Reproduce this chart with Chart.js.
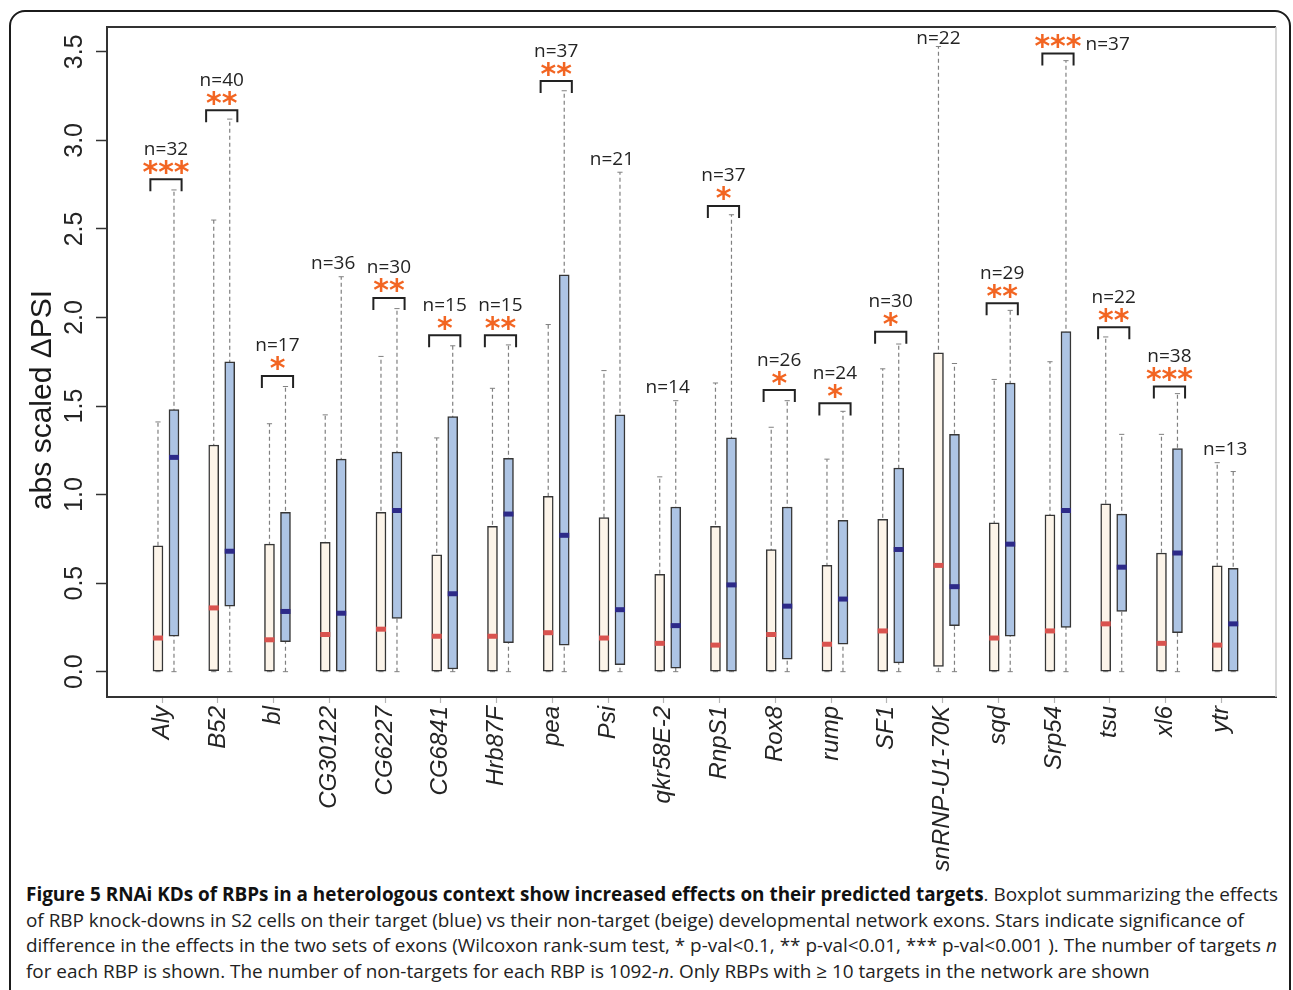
<!DOCTYPE html>
<html>
<head>
<meta charset="utf-8">
<script src="https://cdn.jsdelivr.net/npm/chart.js@4.4.1/dist/chart.umd.min.js"></script>
<style>
  html, body { margin: 0; padding: 0; background: #fff; width: 1293px; height: 990px; overflow: hidden; }
  #frame { position: absolute; left: 9px; top: 10px; width: 1282px; height: 1020px; border: 2px solid #1b1b1b;
           border-radius: 16px; box-sizing: border-box; }
  #wrap { position: absolute; left: 0; top: 0; width: 1293px; height: 880px; }
  #caption { position: absolute; left: 26px; top: 882px; font-family: 'Open Sans', sans-serif; font-size: 19px;
             line-height: 25.7px; color: #222; }
  #caption div { white-space: nowrap; transform-origin: 0 0; width: max-content; }
  #caption b { font-weight: 700; color: #111; }
</style>
</head>
<body>
<div id="frame"></div>
<div id="wrap"><canvas id="c" width="1293" height="880"></canvas></div>
<div id="caption">
  <div><b>Figure 5 RNAi KDs of RBPs in a heterologous context show increased effects on their predicted targets</b>. Boxplot summarizing the effects</div>
  <div>of RBP knock-downs in S2 cells on their target (blue) vs their non-target (beige) developmental network exons. Stars indicate significance of</div>
  <div>difference in the effects in the two sets of exons (Wilcoxon rank-sum test, * p-val&lt;0.1, ** p-val&lt;0.01, *** p-val&lt;0.001 ). The number of targets <i>n</i></div>
  <div>for each RBP is shown. The number of non-targets for each RBP is 1092-<i>n</i>. Only RBPs with &#8805; 10 targets in the network are shown</div>
</div>
<script>
// RNA-binding proteins knocked down in S2 cells
const categories = ['Aly', 'B52', 'bl', 'CG30122', 'CG6227', 'CG6841', 'Hrb87F', 'pea', 'Psi', 'qkr58E-2',
  'RnpS1', 'Rox8', 'rump', 'SF1', 'snRNP-U1-70K', 'sqd', 'Srp54', 'tsu', 'xl6', 'ytr'];

// Non-target exons (beige): whisker ends, quartiles, median
const nonTargetMin = [0, 0, 0, 0, 0, 0, 0, 0, 0, 0, 0, 0, 0, 0, 0, 0, 0, 0, 0, 0];
const nonTargetQ1  = [0, 0.005, 0, 0, 0, 0, 0, 0, 0, 0, 0, 0, 0, 0, 0.03, 0, 0, 0, 0, 0];
const nonTargetMed = [0.19, 0.36, 0.18, 0.21, 0.24, 0.20, 0.20, 0.22, 0.19, 0.16, 0.15, 0.21, 0.155, 0.23, 0.60, 0.19, 0.23, 0.27, 0.16, 0.15];
const nonTargetQ3  = [0.71, 1.28, 0.72, 0.73, 0.90, 0.66, 0.82, 0.99, 0.87, 0.55, 0.82, 0.69, 0.60, 0.86, 1.80, 0.84, 0.885, 0.947, 0.67, 0.597];
const nonTargetMax = [1.41, 2.55, 1.40, 1.45, 1.78, 1.32, 1.60, 1.96, 1.70, 1.10, 1.63, 1.38, 1.20, 1.71, 3.53, 1.65, 1.75, 1.89, 1.34, 1.18];

// Target exons (blue)
const targetMin = [0, 0, 0, 0, 0, 0, 0, 0, 0, 0, 0, 0, 0, 0, 0, 0, 0, 0, 0, 0];
const targetQ1  = [0.20, 0.37, 0.17, 0, 0.30, 0.015, 0.164, 0.15, 0.04, 0.02, 0, 0.07, 0.155, 0.05, 0.26, 0.20, 0.25, 0.34, 0.22, 0];
const targetMed = [1.21, 0.68, 0.34, 0.33, 0.91, 0.44, 0.89, 0.77, 0.35, 0.26, 0.49, 0.37, 0.41, 0.69, 0.48, 0.72, 0.91, 0.59, 0.67, 0.27];
const targetQ3  = [1.48, 1.75, 0.90, 1.20, 1.24, 1.44, 1.205, 2.24, 1.45, 0.93, 1.32, 0.93, 0.855, 1.15, 1.34, 1.63, 1.92, 0.89, 1.26, 0.584];
const targetMax = [2.72, 3.12, 1.61, 2.23, 2.05, 1.84, 1.845, 3.28, 2.82, 1.53, 2.58, 1.53, 1.47, 1.85, 1.74, 2.04, 3.45, 1.34, 1.57, 1.13];

// Number of targets and Wilcoxon significance stars per RBP
const nTargets = [32, 40, 17, 36, 30, 15, 15, 37, 21, 14, 37, 26, 24, 30, 22, 29, 37, 22, 38, 13];
const stars = ['***', '**', '*', '', '**', '*', '**', '**', '', '', '*', '*', '*', '*', '', '**', '***', '**', '***', ''];
// Height of the significance bracket (null where there is no bracket)
const bracketLevel = [2.78, 3.17, 1.67, null, 2.11, 1.90, 1.90, 3.335, null, null, 2.63, 1.59, 1.515, 1.92, null, 2.08, 3.49, 1.945, 1.61, null];

// Y axis tick values
const yTicks = [0, 0.5, 1.0, 1.5, 2.0, 2.5, 3.0, 3.5];

// ---- geometry in category units ----
const HALF_GAP = 0.1435;       // beige box sits left of the pair centre, blue box right
const BRACKET_HALF = 0.28;     // half width of a significance bracket
const BRACKET_LEG = 0.068;     // bracket leg length in y units
const TICK_SHIFT = -0.07;      // x tick marks sit slightly left of the pair centre

const BEIGE = '#fcf4e9', BLUE = '#adc4e4', RED = '#d9534f', NAVY = '#2d2a88';
const EDGE = '#363636', WHISKER = '#808080', STAR = '#f26522';
const TEXT = '#242424';

function whiskers(off, lo, hi) {
  const pts = [];
  categories.forEach((_, i) => {
    pts.push({ x: i + off, y: lo[i] }, { x: i + off, y: hi[i] }, { x: i + off, y: null });
  });
  return pts;
}
function boxes(off, q1, q3) {
  return categories.map((_, i) => ({ x: i + off, y: [q1[i], q3[i]] }));
}
function medians(off, med) {
  return categories.map((_, i) => ({ x: i + off, y: med[i] }));
}
function brackets() {
  const pts = [];
  bracketLevel.forEach((b, i) => {
    if (b === null) return;
    pts.push({ x: i - BRACKET_HALF, y: b - BRACKET_LEG }, { x: i - BRACKET_HALF, y: b },
             { x: i + BRACKET_HALF, y: b }, { x: i + BRACKET_HALF, y: b - BRACKET_LEG },
             { x: i, y: null });
  });
  return pts;
}

const whiskerStyle = {
  type: 'line', borderColor: WHISKER, borderWidth: 1.2, borderDash: [4, 3],
  pointStyle: 'line', pointRadius: 2.6, pointBorderWidth: 1, pointBorderColor: WHISKER,
  spanGaps: false, order: 3
};
const boxStyle = {
  type: 'bar', grouped: false, barThickness: 10, borderWidth: 1.5, borderColor: EDGE,
  borderSkipped: false, order: 2
};
const medianStyle = {
  type: 'line', showLine: false, pointStyle: 'line', pointRadius: 5, pointBorderWidth: 5, order: 1
};

function inkText(ctx, txt, cx, cy, align) {
  const m = ctx.measureText(txt);
  ctx.textAlign = align || 'center';
  ctx.textBaseline = 'alphabetic';
  ctx.fillText(txt, cx, cy + (m.actualBoundingBoxAscent - m.actualBoundingBoxDescent) / 2);
  return m;
}

const decorations = {
  id: 'decorations',
  afterDraw(chart) {
    const { ctx, chartArea: a, scales: { x, y } } = chart;
    ctx.save();
    // top and right edges of the plotting box
    ctx.lineWidth = 2; ctx.strokeStyle = '#333';
    ctx.beginPath(); ctx.moveTo(a.left, a.top); ctx.lineTo(a.right, a.top); ctx.stroke();
    ctx.lineWidth = 1.5; ctx.strokeStyle = '#c9c9c9';
    ctx.beginPath(); ctx.moveTo(a.right, a.top); ctx.lineTo(a.right, a.bottom); ctx.stroke();

    // y tick labels, turned to read upwards
    ctx.fillStyle = TEXT;
    ctx.font = '25px "Liberation Sans", Arial, sans-serif';
    yTicks.forEach(v => {
      const py = y.getPixelForValue(v);
      ctx.save(); ctx.translate(72.5, py); ctx.rotate(-Math.PI / 2);
      inkText(ctx, v.toFixed(1), 0, 0, 'center');
      ctx.restore();
    });

    // y axis title
    ctx.save();
    ctx.translate(40, 400); ctx.rotate(-Math.PI / 2);
    ctx.font = '30px "Liberation Sans", Arial, sans-serif';
    ctx.fillStyle = '#1a1a1a';
    inkText(ctx, 'abs scaled \u0394PSI', 0, 0, 'center');
    ctx.restore();

    // significance stars and target counts
    const countFont = '19px "Open Sans", sans-serif';
    categories.forEach((_, i) => {
      const cx = x.getPixelForValue(i);
      const label = 'n=' + nTargets[i];
      ctx.font = countFont;
      ctx.fillStyle = TEXT;
      if (bracketLevel[i] !== null) {
        const by = y.getPixelForValue(bracketLevel[i]);
        const tall = y.getPixelForValue(Math.max(targetMax[i], nonTargetMax[i])) - 46 < a.top;
        ctx.font = 'bold 30px "DejaVu Sans", sans-serif';
        ctx.fillStyle = STAR;
        const m = inkText(ctx, stars[i], cx, by - 12, 'center');
        ctx.font = countFont;
        ctx.fillStyle = TEXT;
        if (tall) {
          inkText(ctx, label, cx + m.width / 2 + 4, by - 10, 'left');
        } else {
          inkText(ctx, label, cx, by - 31, 'center');
        }
      } else {
        const beigeHigher = nonTargetMax[i] - targetMax[i] > 0.5;
        const lx = beigeHigher ? x.getPixelForValue(i - HALF_GAP) : cx;
        const top = y.getPixelForValue(Math.max(targetMax[i], nonTargetMax[i]));
        inkText(ctx, label, lx, Math.max(top - 14, a.top + 10), 'center');
      }
    });
    ctx.restore();
  }
};

new Chart(document.getElementById('c'), {
  type: 'bar',
  data: {
    datasets: [
      Object.assign({ data: whiskers(-HALF_GAP, nonTargetMin, nonTargetMax) }, whiskerStyle),
      Object.assign({ data: whiskers(HALF_GAP, targetMin, targetMax) }, whiskerStyle),
      Object.assign({ data: boxes(-HALF_GAP, nonTargetQ1, nonTargetQ3), backgroundColor: BEIGE }, boxStyle),
      Object.assign({ data: boxes(HALF_GAP, targetQ1, targetQ3), backgroundColor: BLUE }, boxStyle),
      Object.assign({ data: medians(-HALF_GAP, nonTargetMed), pointBorderColor: RED }, medianStyle),
      Object.assign({ data: medians(HALF_GAP, targetMed), pointBorderColor: NAVY }, medianStyle),
      { type: 'line', data: brackets(), borderColor: '#222', borderWidth: 2, pointRadius: 0,
        spanGaps: false, order: 0, borderJoinStyle: 'miter' }
    ]
  },
  options: {
    responsive: false,
    animation: false,
    events: [],
    layout: { padding: { top: 27, right: 17, left: 0, bottom: 0 } },
    plugins: { legend: { display: false }, tooltip: { enabled: false } },
    scales: {
      x: {
        type: 'linear', min: -1.058, max: 19.911, offset: false,
        afterBuildTicks: s => { s.ticks = categories.map((_, i) => ({ value: i + TICK_SHIFT })); },
        afterFit: s => { s.height = 183; },
        grid: { drawOnChartArea: false, offset: false, tickLength: 6, tickColor: '#b5b5b5', tickWidth: 1.2 },
        border: { display: true, color: '#333', width: 2 },
        ticks: {
          autoSkip: false, minRotation: 90, maxRotation: 90, padding: 3,
          color: TEXT, font: { family: '"Liberation Sans", Arial, sans-serif', size: 24, style: 'italic' },
          callback: v => categories[Math.round(v)]
        }
      },
      y: {
        type: 'linear', min: -0.143, max: 3.64,
        afterBuildTicks: s => { s.ticks = yTicks.map(v => ({ value: v })); },
        afterFit: s => { s.width = 107; },
        grid: { drawOnChartArea: false, tickLength: 11, tickColor: '#333', tickWidth: 1.5 },
        border: { display: true, color: '#333', width: 2 },
        ticks: { display: false }
      }
    }
  },
  plugins: [decorations]
});

// condense the caption lines to the column width
(function () {
  const lines = document.querySelectorAll('#caption div');
  const w = lines[0].getBoundingClientRect().width;
  const k = 1252 / w;
  lines.forEach(d => { d.style.transform = 'scaleX(' + k + ')'; });
})();
</script>
</body>
</html>
